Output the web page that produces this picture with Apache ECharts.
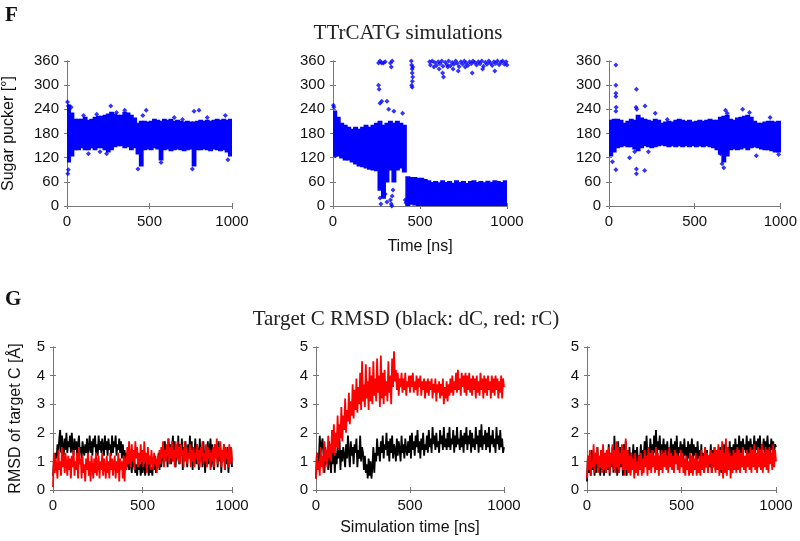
<!DOCTYPE html>
<html>
<head>
<meta charset="utf-8">
<script src="https://cdn.jsdelivr.net/npm/echarts@6/dist/echarts.min.js"></script>
<style>
  html, body { margin: 0; padding: 0; background: #fff; }
  #main { width: 800px; height: 541px; }
</style>
</head>
<body>
<div id="main"></div>
<script>
// time step of the RMSD traces (ns) and width of pucker bins (ns)
const rmsdStep = 5;
const binWidth = 20;

// sugar pucker bands, one [lo, hi] per 20 ns bin (start 0 .. 980)
const puckerLo1 = [110,125,140,140,145,140,140,145,140,145,145,140,135,140,148,150,150,145,148,140,145,130,100,140,142,140,145,142,115,140,142,138,140,142,140,138,140,142,100,140,140,142,140,138,142,140,138,140,135,125];
const puckerHi1 = [250,230,215,215,215,220,212,215,220,222,222,225,228,232,228,225,225,232,230,225,218,205,210,210,208,210,215,212,210,215,212,215,210,212,210,208,210,208,208,210,212,210,212,210,212,215,212,215,212,215];
const puckerLo2 = [125,125,120,115,115,110,105,100,98,95,92,90,88,40,20,60,90,60,90,95,85,0,5,3,2,0,0,0,0,0,0,0,0,0,0,0,0,0,0,0,0,0,0,0,0,0,0,0,0,0];
const puckerHi2 = [235,220,205,200,195,190,195,190,195,200,195,200,205,210,200,205,210,205,210,205,200,72,70,70,68,68,65,62,58,60,57,62,58,60,56,62,58,60,55,60,62,58,60,57,61,58,62,60,58,62];
const puckerLo3 = [125,135,145,148,150,148,148,142,138,145,150,148,145,148,150,152,150,148,150,148,150,148,150,148,150,148,150,148,150,148,145,140,130,110,125,140,142,140,142,145,140,145,148,145,142,140,140,138,135,135];
const puckerHi3 = [212,215,215,212,205,210,215,212,225,218,215,212,210,215,212,205,208,210,208,212,215,212,210,212,208,210,212,210,212,215,212,212,220,222,225,215,212,218,220,222,225,220,210,205,205,208,210,210,208,210];

// isolated pucker points [time ns, angle deg]
const puckerOut1 = [[3,258],[8,248],[12,240],[5,80],[8,90],[25,245],[100,225],[130,130],[180,228],[200,135],[240,130],[265,248],[300,232],[350,238],[430,92],[460,225],[480,238],[570,108],[650,220],[700,215],[760,92],[770,235],[800,238],[850,220],[960,225],[975,115]];
const puckerOut2 = [[2,250],[5,245],[15,125],[262,300],[265,290],[262,355],[270,360],[280,355],[290,355],[300,358],[270,20],[275,5],[290,50],[300,30],[310,10],[305,70],[330,355],[335,345],[340,360],[330,15],[335,5],[340,25],[345,40],[338,0],[310,260],[320,240],[350,235],[400,230],[270,255],[280,260],[415,15],[420,8],[450,360],[452,350],[455,340],[455,330],[458,320],[456,310],[455,295],[452,300],[458,345],
  [555,358],[560,350],[570,360],[580,345],[585,356],[595,349],[605,358],[610,340],[615,353],[625,360],[630,330],[632,347],[635,320],[645,357],[655,351],[660,345],[665,360],[675,348],[685,356],[690,340],[695,352],[705,360],[715,354],[720,335],[725,346],[735,358],[745,352],[755,360],[760,345],[765,355],[775,349],[785,358],[795,353],[800,330],[805,360],[815,356],[825,350],[835,358],[845,353],[855,360],[860,340],[865,347],[875,357],[885,352],[895,360],[905,355],[915,349],[925,358],[930,335],[935,354],[945,360],[955,351],[965,357],[975,360],[985,352],[995,358],[1000,350]];
const puckerOut3 = [[40,350],[40,300],[40,280],[40,272],[42,245],[40,235],[40,90],[20,110],[160,290],[158,245],[162,240],[160,92],[160,80],[210,248],[208,88],[150,135],[230,135],[270,230],[120,120],[340,215],[650,130],[660,105],[670,95],[680,238],[690,230],[780,240],[820,232],[860,125],[940,220],[990,128]];

// RMSD traces (Å), one value every 5 ns from 0 to 1000 (20 values per 100 ns)
const rmsdBlack1 = [
  0.5,1.0,0.8,1.3,1.1,1.6,1.2,1.8,2.1,1.3, 1.9,1.5,1.2,1.8,1.4,2.0,1.3,1.7,1.5,1.9,
  1.3,2.0,1.5,1.2,1.8,1.4,1.7,1.2,1.6,1.9, 1.3,1.5,1.1,1.7,1.4,1.2,1.6,1.3,1.8,1.2,
  1.5,1.9,1.3,1.7,1.2,1.8,1.5,1.9,1.3,1.6, 1.2,1.9,1.4,1.7,1.3,1.8,1.5,1.2,1.9,1.4,
  1.7,1.2,1.8,1.4,1.6,1.2,1.9,1.3,1.7,1.5, 1.9,1.2,1.6,1.4,1.8,1.3,1.7,1.1,1.6,1.2,
  1.4,0.9,1.3,0.8,1.2,0.7,1.1,0.9,0.6,1.2, 0.8,1.0,0.6,0.9,0.5,1.1,0.7,0.9,0.5,1.0,
  0.6,1.1,0.8,0.5,1.0,0.7,0.9,0.5,1.1,0.6, 0.8,0.5,1.0,0.7,1.2,0.6,1.0,0.8,1.3,0.7,
  1.4,0.8,1.2,1.6,0.9,1.7,1.1,1.5,0.8,1.8, 1.2,1.6,0.9,1.4,1.9,1.0,1.7,0.8,1.5,1.1,
  1.9,0.9,1.6,1.2,1.8,0.7,1.5,1.1,1.7,1.3, 0.8,1.6,1.2,1.9,1.0,1.7,0.7,1.5,1.2,1.8,
  0.9,1.6,1.3,0.7,1.8,1.1,1.5,0.8,1.7,1.2, 0.6,1.5,1.0,1.7,0.9,1.4,1.8,0.8,1.6,1.1,
  0.7,1.6,1.2,1.4,0.8,1.7,1.0,1.5,0.6,1.3, 1.1,1.6,0.7,1.4,0.9,1.5,0.6,1.2,1.0,1.5,
  0.8];
const rmsdRed1 = [
  0.1,1.3,0.6,1.1,0.8,0.4,1.4,0.7,1.0,0.5, 1.5,0.8,1.2,0.6,1.3,0.9,0.5,1.2,0.7,1.1,
  0.4,1.2,0.8,1.4,0.5,1.0,0.7,1.3,0.4,1.5, 0.9,1.1,0.4,1.2,0.6,0.9,0.3,1.1,0.7,1.3,
  0.5,1.0,0.3,1.2,0.8,0.4,1.1,0.6,1.3,0.5, 0.9,1.2,0.4,1.0,0.7,1.3,0.5,1.1,0.8,0.4,
  1.2,0.6,1.0,0.4,1.3,0.7,1.1,0.5,0.9,1.2, 0.4,1.0,0.6,1.3,0.3,1.1,0.7,1.0,0.4,1.2,
  0.3,1.1,0.7,1.5,0.9,1.7,1.2,0.8,1.6,1.0, 1.4,0.7,1.7,1.1,1.5,0.8,1.3,0.9,1.6,1.0,
  1.4,0.8,1.7,1.0,1.3,0.6,1.5,0.9,1.2,0.7, 1.4,1.0,0.7,1.3,0.9,1.1,0.6,1.2,0.8,1.4,
  0.9,1.5,1.1,1.7,0.8,1.4,1.0,1.6,1.2,1.8, 0.9,1.5,1.1,1.7,1.0,1.4,0.8,1.6,1.1,1.7,
  1.0,1.5,0.9,1.6,1.2,1.4,0.8,1.7,1.0,1.5, 0.9,1.3,1.1,1.6,0.8,1.4,1.0,1.5,0.8,1.3,
  1.1,1.6,0.9,1.4,0.8,1.5,1.2,1.7,0.9,1.3, 1.0,1.6,0.8,1.5,1.1,1.4,0.7,1.3,1.0,1.5,
  0.8,1.6,1.1,1.8,0.9,1.5,1.2,1.7,0.8,1.4, 1.0,1.6,0.7,1.5,1.1,1.3,0.8,1.6,0.9,1.5,
  1.0];
const rmsdBlack2 = [
  0.4,1.3,0.8,1.0,1.9,1.3,1.6,1.8,1.2,0.6, 1.5,0.9,1.3,0.7,1.7,1.0,0.6,1.4,0.9,1.6,
  0.6,1.3,0.9,1.6,1.1,1.8,0.7,1.4,1.0,1.5, 1.2,0.8,1.6,1.1,1.9,1.3,0.8,1.7,1.2,1.5,
  0.9,1.6,1.3,1.8,0.8,1.4,1.1,1.9,1.0,1.5, 1.3,0.7,1.2,0.6,0.9,0.4,1.1,0.5,1.0,0.4,
  0.8,1.5,0.6,1.3,1.0,1.8,1.2,1.5,1.0,1.7, 1.3,1.9,1.1,1.6,1.4,2.0,1.2,1.7,1.0,1.8,
  1.3,1.9,1.1,1.6,1.4,1.0,1.8,1.2,1.7,1.4, 1.0,1.9,1.3,1.6,1.1,1.8,1.4,1.2,1.7,1.3,
  1.9,1.1,2.0,1.4,1.7,1.2,1.9,1.5,2.1,1.3, 1.7,1.1,1.8,1.4,2.0,1.2,1.6,1.4,1.9,1.3,
  2.1,1.5,1.8,1.3,2.2,1.6,1.9,1.4,2.0,1.5, 1.7,1.3,2.1,1.6,1.9,1.4,2.2,1.5,1.8,1.4,
  2.0,1.5,2.2,1.4,1.8,1.6,2.1,1.3,1.9,1.5, 2.2,1.6,1.8,1.4,2.1,1.5,1.9,1.3,2.0,1.6,
  2.2,1.4,1.9,1.6,2.1,1.3,2.0,1.5,1.8,1.4, 2.2,1.6,1.9,1.3,2.1,1.5,2.3,1.4,1.9,1.6,
  2.1,1.4,2.0,1.5,2.2,1.3,1.9,1.6,2.1,1.5, 1.8,1.3,2.2,1.6,1.9,1.4,2.1,1.5,1.8,1.3,
  1.5];
const rmsdRed2 = [
  0.4,1.3,0.7,1.0,0.5,1.5,0.8,1.2,0.6,1.7, 1.0,1.4,0.8,1.9,1.1,1.6,1.0,2.1,1.3,2.3,
  1.2,2.0,1.5,2.6,1.4,2.3,1.8,2.9,1.7,2.6, 2.1,3.2,2.0,2.8,2.4,3.4,2.3,3.1,2.6,3.7,
  2.5,3.5,2.8,3.9,2.7,3.6,3.0,4.1,2.8,4.5, 3.1,3.7,2.9,4.4,3.2,3.8,2.8,4.3,3.1,4.0,
  3.0,4.5,3.3,3.9,3.1,4.6,3.4,4.0,2.9,4.7, 3.2,4.1,3.0,4.2,3.3,3.8,3.1,4.5,3.4,4.0,
  3.0,4.6,3.6,4.85,3.8,4.2,3.5,4.1,3.3,3.9, 3.6,4.1,3.4,3.9,3.5,4.1,3.3,3.8,3.6,4.0,
  3.4,4.0,3.6,4.1,3.4,3.8,3.5,4.0,3.3,3.9, 3.6,4.0,3.3,3.8,3.5,3.9,3.2,3.8,3.4,3.9,
  3.3,3.8,3.5,3.9,3.2,3.7,3.4,3.9,3.1,3.7, 3.4,3.8,3.2,3.7,3.3,3.9,3.0,3.6,3.2,3.8,
  3.1,3.7,3.3,3.9,3.4,4.0,3.3,3.8,3.5,4.1, 3.4,4.2,3.5,3.9,3.3,4.1,3.6,4.0,3.4,4.1,
  3.3,4.0,3.5,4.1,3.4,3.9,3.3,4.0,3.5,3.9, 3.2,4.0,3.4,3.8,3.3,4.1,3.5,3.9,3.2,4.0,
  3.4,3.9,3.3,4.0,3.5,3.8,3.2,4.0,3.4,3.9, 3.3,4.0,3.5,3.9,3.2,3.8,3.4,4.0,3.2,3.9,
  3.6];
const rmsdBlack3 = [
  0.3,1.2,0.6,1.0,0.5,1.4,0.7,1.1,0.5,1.3, 0.6,1.5,0.8,1.2,0.5,1.4,0.7,1.3,0.5,1.1,
  0.6,1.4,0.7,1.6,0.5,1.3,0.8,1.5,0.6,1.9, 0.7,1.4,0.5,1.7,0.6,1.5,0.8,1.3,0.5,1.6,
  0.6,1.7,0.5,1.4,0.8,1.5,0.6,1.3,0.9,1.6, 0.7,1.4,0.9,1.5,0.8,1.2,1.0,1.6,0.9,1.4,
  1.1,1.7,1.0,1.9,1.2,1.5,1.0,1.8,1.3,1.6, 1.1,1.9,1.3,2.1,1.2,1.7,1.4,1.9,1.1,1.6,
  1.3,1.8,1.1,1.6,1.2,1.7,1.0,1.5,1.3,1.8, 1.1,1.6,1.0,1.7,1.2,1.9,1.0,1.5,1.3,1.7,
  1.1,1.6,1.0,1.8,1.2,1.5,1.0,1.7,1.1,1.6, 1.3,1.8,1.0,1.6,1.2,1.5,0.9,1.7,1.1,1.4,
  0.8,1.6,0.7,1.3,0.6,1.5,0.8,1.4,0.7,1.2, 0.8,1.6,0.6,1.4,0.8,1.5,0.7,1.3,0.9,1.4,
  0.7,1.5,0.6,1.4,0.8,1.6,0.7,1.3,0.9,1.5, 0.8,1.7,1.0,1.5,0.9,1.6,1.1,1.8,1.2,1.6,
  1.2,1.9,1.3,1.7,1.2,1.8,1.4,1.6,1.3,1.9, 1.2,1.7,1.3,1.8,1.4,1.6,1.2,1.9,1.3,1.7,
  1.4,1.8,1.2,1.9,1.3,1.6,1.4,1.8,1.2,1.7, 1.4,1.9,1.3,1.6,1.2,1.8,1.4,1.7,1.3,1.6,
  1.5];
const rmsdRed3 = [
  0.4,1.2,0.7,1.4,0.5,1.0,0.8,1.6,0.6,1.3, 0.9,1.5,0.6,1.2,0.8,1.4,0.6,1.6,0.7,1.3,
  0.6,1.4,0.8,1.5,0.6,1.3,0.9,1.6,0.7,1.4, 0.6,1.7,0.8,1.5,0.6,1.3,0.9,1.6,0.7,1.4,
  0.5,1.8,0.7,1.4,0.6,1.2,0.5,1.3,0.7,1.1, 0.4,1.3,0.6,1.0,0.5,1.2,0.7,1.3,0.5,1.1,
  0.6,1.4,0.8,1.2,0.5,1.5,0.7,1.3,0.6,1.4, 0.8,1.2,0.6,1.5,0.7,1.3,0.5,1.2,0.7,1.4,
  0.6,1.3,0.8,1.4,0.7,1.2,0.6,1.5,0.8,1.3, 0.7,1.2,0.6,1.4,0.9,1.3,0.7,1.2,0.6,1.4,
  0.8,1.3,0.6,1.1,0.5,1.2,0.7,1.0,0.5,1.3, 0.6,1.2,0.5,1.1,0.7,1.3,0.5,1.0,0.6,1.2,
  0.5,1.4,0.7,1.2,0.6,1.5,0.8,1.3,0.6,1.2, 0.9,1.4,0.6,1.3,0.8,1.5,0.6,1.4,0.7,1.6,
  0.5,1.4,0.7,1.7,0.4,1.3,0.6,1.8,0.5,1.5, 0.7,1.3,0.4,1.2,0.6,1.4,0.7,1.3,0.6,1.5,
  0.7,1.4,0.6,1.3,0.8,1.5,0.7,1.2,0.6,1.4, 0.8,1.3,0.7,1.5,0.6,1.4,0.8,1.6,0.7,1.3,
  0.6,1.5,0.8,1.4,0.7,1.6,0.6,1.3,0.8,1.5, 0.7,1.4,0.6,1.5,0.9,1.3,0.7,1.6,0.8,1.4,
  1.0];

const timeTicks = [0, 500, 1000];
const puckerTicks = [0, 60, 120, 180, 240, 300, 360];
const rmsdTicks = [0, 1, 2, 3, 4, 5];

const SANS = 'Liberation Sans, Arial, sans-serif';
const SERIF = 'Liberation Serif, Times New Roman, serif';
const BOX = '#777';

const chart = echarts.init(document.getElementById('main'));

const grids = [
  { left: 67, top: 61, width: 165, height: 145 },
  { left: 333, top: 61, width: 174, height: 145 },
  { left: 609, top: 61, width: 173, height: 145 },
  { left: 53, top: 347, width: 179, height: 143 },
  { left: 316, top: 347, width: 188, height: 143 },
  { left: 587, top: 347, width: 189, height: 143 }
];

const xAxes = [];
const yAxes = [];
grids.forEach((g, i) => {
  const top = i < 3;
  const ticks = top ? puckerTicks : rmsdTicks;
  const common = {
    gridIndex: i, type: 'value', min: timeTicks[0], max: timeTicks[timeTicks.length - 1],
    interval: timeTicks[1] - timeTicks[0],
    splitLine: { show: false },
    axisLine: { show: true, lineStyle: { color: BOX, width: 1 } },
    axisTick: { show: true, inside: true, length: 3, lineStyle: { color: BOX } }
  };
  xAxes.push(Object.assign({}, common, {
    position: 'bottom',
    axisLabel: { color: '#111', fontFamily: SANS, fontSize: 15, margin: 8, formatter: v => String(v) },
    name: i === 1 ? 'Time [ns]' : (i === 4 ? 'Simulation time [ns]' : ''),
    nameLocation: 'middle', nameGap: top ? 33 : 30,
    nameTextStyle: { color: '#111', fontFamily: SANS, fontSize: 16 }
  }));
  xAxes.push(Object.assign({}, common, { position: 'top', axisLabel: { show: false } }));
  const yCommon = {
    gridIndex: i, type: 'value', min: ticks[0], max: ticks[ticks.length - 1],
    interval: ticks[1] - ticks[0],
    splitLine: { show: false },
    axisLine: { show: true, lineStyle: { color: BOX, width: 1 } },
    axisTick: { show: true, inside: true, length: 3, lineStyle: { color: BOX } }
  };
  yAxes.push(Object.assign({}, yCommon, {
    position: 'left',
    axisLabel: { color: '#111', fontFamily: SANS, fontSize: 15, margin: 8, formatter: v => String(v) },
    name: i === 0 ? 'Sugar pucker [°]' : (i === 3 ? 'RMSD of target C [Å]' : ''),
    nameLocation: 'middle', nameGap: top ? 50 : 29,
    nameTextStyle: { color: '#111', fontFamily: SANS, fontSize: 16 }
  }));
  yAxes.push(Object.assign({}, yCommon, { position: 'right', axisLabel: { show: false } }));
});

function bandData(lo, hi) {
  return lo.map((v, k) => [k * binWidth, v, hi[k]]);
}

function bandSeries(idx, lo, hi) {
  return {
    type: 'custom', xAxisIndex: idx * 2, yAxisIndex: idx * 2,
    data: bandData(lo, hi),
    encode: { x: 0, y: [1, 2] },
    clip: true, silent: true,
    renderItem: function (params, api) {
      const p0 = api.coord([api.value(0), api.value(2)]);
      const p1 = api.coord([api.value(0) + binWidth, api.value(1)]);
      return {
        type: 'rect',
        shape: { x: p0[0], y: p0[1], width: p1[0] - p0[0], height: p1[1] - p0[1] },
        style: { fill: '#0000ff', stroke: '#0000ff', lineWidth: 1.5 }
      };
    }
  };
}

function dotSeries(idx, pts) {
  return {
    type: 'scatter', xAxisIndex: idx * 2, yAxisIndex: idx * 2,
    data: pts, symbol: 'diamond', symbolSize: 5, silent: true,
    itemStyle: { color: '#0000ff' }
  };
}

function traceSeries(idx, vals, color) {
  return {
    type: 'line', xAxisIndex: idx * 2, yAxisIndex: idx * 2,
    data: vals.map((v, k) => [k * rmsdStep, v]),
    showSymbol: false, silent: true, clip: true, animation: false,
    lineStyle: { color: color, width: 1.8 }
  };
}

const series = [
  bandSeries(0, puckerLo1, puckerHi1), dotSeries(0, puckerOut1),
  bandSeries(1, puckerLo2, puckerHi2), dotSeries(1, puckerOut2),
  bandSeries(2, puckerLo3, puckerHi3), dotSeries(2, puckerOut3),
  traceSeries(3, rmsdBlack1, '#000000'), traceSeries(3, rmsdRed1, '#ff0000'),
  traceSeries(4, rmsdBlack2, '#000000'), traceSeries(4, rmsdRed2, '#ff0000'),
  traceSeries(5, rmsdBlack3, '#000000'), traceSeries(5, rmsdRed3, '#ff0000')
];

chart.setOption({
  backgroundColor: '#fff',
  animation: false,
  title: [
    { text: 'F', left: 0, top: 0, textStyle: { fontFamily: SERIF, fontSize: 21, fontWeight: 'bold', color: '#111' } },
    { text: 'TTrCATG simulations', left: 403, top: 18, textAlign: 'center',
      textStyle: { fontFamily: SERIF, fontSize: 21, fontWeight: 'normal', color: '#222' } },
    { text: 'G', left: 0, top: 284, textStyle: { fontFamily: SERIF, fontSize: 21, fontWeight: 'bold', color: '#111' } },
    { text: 'Target C RMSD (black: dC, red: rC)', left: 401, top: 304, textAlign: 'center',
      textStyle: { fontFamily: SERIF, fontSize: 21, fontWeight: 'normal', color: '#222' } }
  ],
  grid: grids,
  xAxis: xAxes,
  yAxis: yAxes,
  series: series
});
</script>
</body>
</html>
